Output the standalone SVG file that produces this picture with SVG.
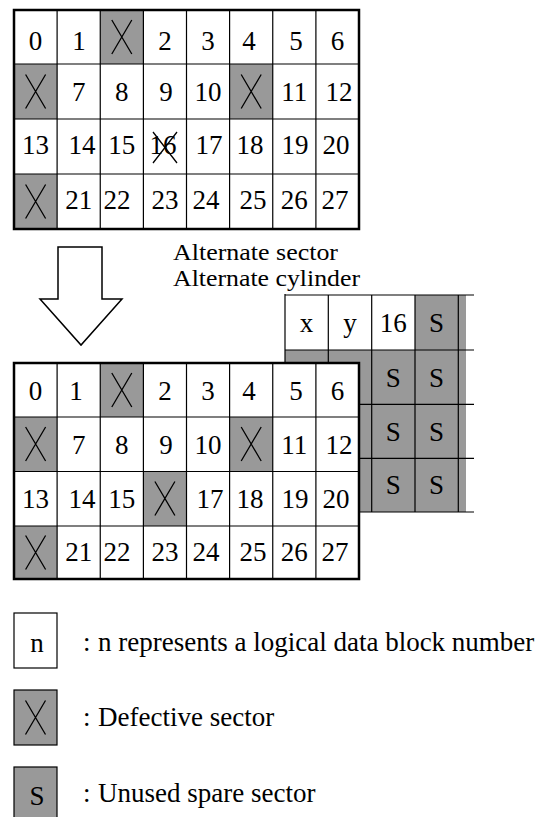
<svg xmlns="http://www.w3.org/2000/svg" xmlns:xlink="http://www.w3.org/1999/xlink" width="537" height="817" viewBox="0 0 537 817">
<style>
  text{font-family:"Liberation Serif","Times New Roman",serif;font-size:27px;fill:#000}
  .c{text-anchor:middle}
  .lab{font-size:23px}
  .w{fill:#fff;stroke:#000;stroke-width:1.2}
  .g{fill:#999;stroke:#000;stroke-width:1.2}
  .gf{fill:#999;stroke:none}
  .wf{fill:#fff;stroke:none}
  .ln{stroke:#000;stroke-width:1.2;fill:none}
  .ol{fill:none;stroke:#000;stroke-width:2.5}
  .xm{stroke:#000;stroke-width:1.3;fill:none}
</style>
<defs>
  <path id="xm" class="xm" d="M-10,-17 L10,17 M10,-17 L-10,17"/>
</defs>

<rect width="537" height="817" fill="#fff"/>

<!-- Top grid (before) -->
<g id="grid-before">
  <rect class="wf" x="14" y="10" width="345" height="219"/>
  <rect class="gf" x="100.25" y="10" width="43.125" height="54"/>
  <rect class="gf" x="14" y="64" width="43.125" height="55"/>
  <rect class="gf" x="229.6" y="64" width="43.125" height="55"/>
  <rect class="gf" x="14" y="174" width="43.125" height="55"/>
  <path class="ln" d="M57.1,10V229M100.25,10V229M143.4,10V229M186.5,10V229M229.6,10V229M272.75,10V229M315.9,10V229M14,64H359M14,119H359M14,174H359"/>
  <rect class="ol" x="14" y="10" width="345" height="219"/>
  <g class="c">
    <text x="35.6" y="50">0</text><text x="79" y="50">1</text><text x="164.9" y="50">2</text><text x="208.1" y="50">3</text><text x="249" y="50">4</text><text x="296" y="50">5</text><text x="337.4" y="50">6</text>
    <text x="78.7" y="101">7</text><text x="121.8" y="101">8</text><text x="166" y="101">9</text><text x="208.1" y="101">10</text><text x="294.3" y="101">11</text><text x="339" y="101">12</text>
    <text x="35.6" y="154">13</text><text x="82" y="154">14</text><text x="121.8" y="154">15</text><text x="163" y="154">16</text><text x="209" y="154">17</text><text x="250" y="154">18</text><text x="295" y="154">19</text><text x="336" y="154">20</text>
    <text x="78.7" y="209">21</text><text x="117" y="209">22</text><text x="164.9" y="209">23</text><text x="206" y="209">24</text><text x="253" y="209">25</text><text x="294.3" y="209">26</text><text x="335" y="209">27</text>
  </g>
  <use xlink:href="#xm" x="121.8" y="37"/>
  <use xlink:href="#xm" x="35.6" y="91.5"/>
  <use xlink:href="#xm" x="251.2" y="91.5"/>
  <use xlink:href="#xm" x="35.6" y="201.5"/>
  <path class="xm" d="M153,132L177,163M177,132L153,163"/>
</g>

<!-- Labels -->
<g id="label-alternate">
  <text class="lab" x="173" y="260" textLength="165" lengthAdjust="spacingAndGlyphs">Alternate sector</text>
  <text class="lab" x="173" y="286" textLength="187" lengthAdjust="spacingAndGlyphs">Alternate cylinder</text>
</g>

<!-- Connector: big hollow arrow -->
<g id="connectors">
  <polygon points="58,247 102,247 102,299 122,299 81,345 40,299 58,299" fill="#fff" stroke="#000" stroke-width="1.5" stroke-linejoin="miter"/>
</g>

<!-- Alternate cylinder grid (behind) -->
<g id="grid-alternate">
  <rect class="gf" x="285" y="295" width="181" height="217"/>
  <rect class="wf" x="285" y="295" width="130" height="55"/>
  <path class="ln" d="M328.3,295V512M371.7,295V512M415,295V512M285,350H474M285,404.3H474M285,458.3H474" stroke-width="1.4"/>
  <path class="ln" d="M458.3,295V512" stroke-width="2"/>
  <path class="ln" d="M285,295H474M285,512H474M285,294V512" stroke-width="2.2"/>
  <g class="c">
    <text x="306.6" y="332">x</text><text x="350" y="332">y</text><text x="393.3" y="332">16</text><text x="436.6" y="332">S</text>
    <text x="393.3" y="387">S</text><text x="436.6" y="387">S</text>
    <text x="393.3" y="441">S</text><text x="436.6" y="441">S</text>
    <text x="393.3" y="494">S</text><text x="436.6" y="494">S</text>
  </g>
</g>

<!-- Bottom grid (after) -->
<g id="grid-after">
  <rect class="wf" x="14" y="363" width="345" height="216"/>
  <rect class="gf" x="100.25" y="363" width="43.125" height="54"/>
  <rect class="gf" x="14" y="417" width="43.125" height="54.5"/>
  <rect class="gf" x="229.6" y="417" width="43.125" height="54.5"/>
  <rect class="gf" x="143.4" y="471.5" width="43.125" height="54.5"/>
  <rect class="gf" x="14" y="526" width="43.125" height="53"/>
  <path class="ln" d="M57.1,363V579M100.25,363V579M143.4,363V579M186.5,363V579M229.6,363V579M272.75,363V579M315.9,363V579M14,417H359M14,471.5H359M14,526H359"/>
  <rect class="ol" x="14" y="363" width="345" height="216"/>
  <g class="c">
    <text x="35.6" y="400">0</text><text x="76" y="400">1</text><text x="164.9" y="400">2</text><text x="208.1" y="400">3</text><text x="249" y="400">4</text><text x="296" y="400">5</text><text x="337.4" y="400">6</text>
    <text x="78.7" y="454">7</text><text x="121.8" y="454">8</text><text x="166" y="454">9</text><text x="208.1" y="454">10</text><text x="294.3" y="454">11</text><text x="339" y="454">12</text>
    <text x="35.6" y="508">13</text><text x="82" y="508">14</text><text x="121.8" y="508">15</text><text x="210" y="508">17</text><text x="250" y="508">18</text><text x="295" y="508">19</text><text x="336" y="508">20</text>
    <text x="78.7" y="561">21</text><text x="117" y="561">22</text><text x="164.9" y="561">23</text><text x="206" y="561">24</text><text x="253" y="561">25</text><text x="294.3" y="561">26</text><text x="335" y="561">27</text>
  </g>
  <use xlink:href="#xm" x="121.8" y="390"/>
  <use xlink:href="#xm" x="35.6" y="444"/>
  <use xlink:href="#xm" x="251.2" y="444"/>
  <use xlink:href="#xm" x="164.9" y="498.5"/>
  <use xlink:href="#xm" x="35.6" y="552.5"/>
</g>

<!-- Legend -->
<g id="legend-data">
  <rect class="w" x="14" y="613" width="43" height="55"/>
  <text class="c" x="37" y="652">n</text>
  <text x="83" y="651">:</text>
  <text x="98" y="651">n represents a logical data block number</text>
</g>
<g id="legend-defective">
  <rect class="g" x="14" y="690" width="43" height="55"/>
  <use xlink:href="#xm" x="35.5" y="717.5"/>
  <text x="83" y="726">:</text>
  <text x="98" y="726">Defective sector</text>
</g>
<g id="legend-spare">
  <rect class="g" x="14" y="767" width="43" height="55"/>
  <text class="c" x="37" y="805">S</text>
  <text x="83" y="802">:</text>
  <text x="98" y="802">Unused spare sector</text>
</g>
</svg>
